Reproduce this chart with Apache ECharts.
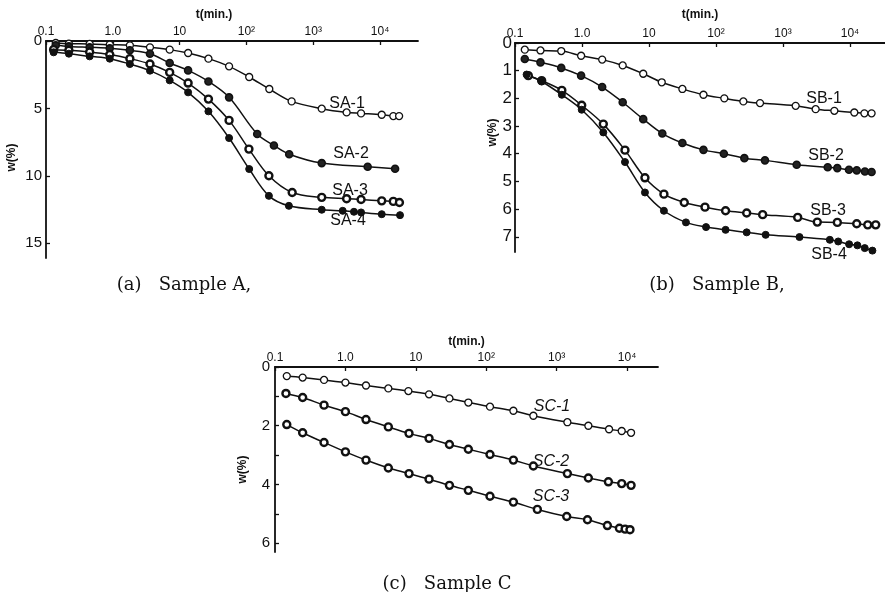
<!DOCTYPE html>
<html><head><meta charset="utf-8">
<script src="https://cdn.jsdelivr.net/npm/echarts@6/dist/echarts.min.js"></script>
<style>html,body{margin:0;padding:0;background:#fff}#c{width:885px;height:592px}</style>
</head><body><div id="c"></div>
<script>
// ---- tick labels ----
const xTickValues = [0.1, 1, 10, 100, 1000, 10000];
const xTickLabels = ['0.1', '1.0', '10', '10²', '10³', '10⁴'];
const yTicksA = [0, 5, 10, 15];
const yTicksB = [0, 1, 2, 3, 4, 5, 6, 7];
const yTicksC = [0, 1, 2, 3, 4, 5, 6];
const yLabelsC = [0, 2, 4, 6];

// ---- Sample A ----
const tSA1 = [0.14,0.22,0.45,0.9,1.8,3.6,7.1,13.4,27,55,110,220,475,1340,3160,5200,10600,15800,19300];
const wSA1 = [0.15,0.2,0.22,0.27,0.32,0.47,0.64,0.89,1.31,1.88,2.67,3.56,4.48,5.02,5.3,5.37,5.47,5.57,5.57];
const tSA2 = [0.14,0.22,0.45,0.9,1.8,3.6,7.1,13.4,27,55,145,258,437,1340,6530,16800];
const wSA2 = [0.32,0.4,0.47,0.54,0.69,0.94,1.63,2.18,3.0,4.18,6.9,7.75,8.4,9.06,9.33,9.48];
const tSA3 = [0.13,0.22,0.45,0.9,1.8,3.6,7.1,13.4,27,55,109,217,484,1340,3160,5200,10600,15800,19500];
const wSA3 = [0.64,0.69,0.82,1.01,1.31,1.71,2.33,3.12,4.31,5.89,8.02,10.0,11.24,11.6,11.7,11.76,11.86,11.9,11.98];
const tSA4 = [0.13,0.22,0.45,0.9,1.8,3.6,7.1,13.4,27,55,110,217,432,1340,2760,4070,5200,10600,19900];
const wSA4 = [0.84,0.94,1.14,1.31,1.71,2.2,2.92,3.81,5.22,7.2,9.5,11.49,12.23,12.52,12.6,12.67,12.72,12.85,12.92];

// ---- Sample B ----
const tSB1 = [0.14,0.24,0.49,0.97,2.0,4.05,8.2,15.5,31.5,65,133,256,454,1545,3070,5840,11600,16400,21000];
const wSB1 = [0.24,0.27,0.29,0.46,0.6,0.81,1.11,1.42,1.66,1.87,2.0,2.11,2.17,2.27,2.39,2.45,2.51,2.54,2.54];
const tSB2 = [0.14,0.24,0.49,0.97,2.0,4.05,8.2,15.8,31.5,65,131,265,538,1600,4650,6460,9660,12600,16700,21000];
const wSB2 = [0.58,0.7,0.9,1.18,1.59,2.14,2.75,3.27,3.61,3.86,4.0,4.16,4.24,4.4,4.49,4.52,4.58,4.6,4.64,4.66];
const tSB3 = [0.158,0.25,0.5,0.99,2.08,4.38,8.7,16.7,33.6,68.5,139,287,497,1657,3250,6470,12600,18400,24200];
const wSB3 = [1.18,1.36,1.71,2.25,2.93,3.87,4.87,5.46,5.76,5.93,6.06,6.14,6.2,6.3,6.47,6.48,6.53,6.57,6.57];
const tSB4 = [0.149,0.25,0.5,0.99,2.08,4.38,8.7,16.7,35.6,71,139,287,551,1763,5000,6670,9700,12900,16600,21600];
const wSB4 = [1.14,1.39,1.87,2.41,3.23,4.3,5.4,6.06,6.48,6.65,6.75,6.84,6.93,7.01,7.11,7.17,7.27,7.31,7.41,7.5];

// ---- Sample C ----
const tSC1 = [0.147,0.247,0.497,1.0,1.96,4.07,7.84,15.4,30,55.7,113,243,467,1420,2820,5550,8390,11400];
const wSC1 = [0.31,0.36,0.44,0.53,0.63,0.73,0.82,0.93,1.07,1.21,1.35,1.49,1.66,1.88,2.0,2.12,2.18,2.24];
const tSC2 = [0.143,0.247,0.497,1.0,1.96,4.07,8.0,15.4,30,55.7,113,243,467,1420,2820,5430,8390,11400];
const wSC2 = [0.9,1.04,1.3,1.52,1.79,2.04,2.26,2.43,2.64,2.8,2.98,3.17,3.37,3.63,3.78,3.91,3.97,4.03];
const tSC3 = [0.147,0.247,0.497,1.0,1.96,4.07,8.0,15.4,30,55.7,113,243,532,1390,2740,5250,7780,9380,11000];
const wSC3 = [1.96,2.24,2.57,2.89,3.17,3.44,3.63,3.82,4.03,4.2,4.4,4.6,4.85,5.09,5.2,5.4,5.49,5.52,5.54];

const INK = '#111';
const sans = '"Liberation Sans", "DejaVu Sans", Arial, sans-serif';
const serif = '"DejaVu Serif", "Liberation Serif", serif';

function xLabelFmt(v) {
  for (let i = 0; i < xTickValues.length; i++) {
    if (Math.abs(Math.log10(v) - Math.log10(xTickValues[i])) < 1e-6) return xTickLabels[i];
  }
  return '';
}

function xAxis(gi, max, gap, pad) {
  return {
    type: 'log', logBase: 10, gridIndex: gi, position: 'top', min: 0.1, max: max,
    name: 't(min.)', nameLocation: 'middle', nameGap: gap,
    nameTextStyle: { fontFamily: sans, fontSize: 12, fontWeight: 'bold', color: INK, padding: pad },
    axisLine: { show: true, onZero: false, lineStyle: { color: INK, width: 1.8 } },
    axisTick: { show: true, inside: true, length: 4, customValues: xTickValues, lineStyle: { color: INK, width: 1.3 } },
    axisLabel: { show: true, margin: 3, customValues: xTickValues, formatter: xLabelFmt,
      fontFamily: sans, fontSize: 12, color: INK },
    splitLine: { show: false }, minorTick: { show: false }
  };
}

function yAxis(gi, max, ticks, labels, fs, gap, pad, margin) {
  return {
    type: 'value', gridIndex: gi, inverse: true, min: 0, max: max, position: 'left',
    name: 'w(%)', nameLocation: 'middle', nameGap: gap,
    nameTextStyle: { fontFamily: sans, fontSize: 12, fontWeight: 'bold', color: INK, padding: pad },
    axisLine: { show: true, onZero: false, lineStyle: { color: INK, width: 1.8 } },
    axisTick: { show: true, inside: true, length: 4, customValues: ticks, lineStyle: { color: INK, width: 1.3 } },
    axisLabel: { show: true, margin: margin, customValues: labels, fontFamily: sans, fontSize: fs, color: INK },
    splitLine: { show: false }
  };
}

const OPEN  = { color: '#fff', borderColor: INK, borderWidth: 1.3 };
const RING  = { color: '#fff', borderColor: INK, borderWidth: 2.4 };
const DARK  = { color: '#222', borderColor: INK, borderWidth: 1.6 };
const SOLID = { color: INK, borderColor: INK, borderWidth: 1 };

function ser(name, t, w, gi, sty) {
  return {
    name: name, type: 'line', xAxisIndex: gi, yAxisIndex: gi,
    data: t.map((x, i) => [x, w[i]]),
    smooth: 0.35, symbol: 'circle', symbolSize: 7, showSymbol: true,
    lineStyle: { color: INK, width: 1.5 }, itemStyle: sty,
    animation: false, silent: true
  };
}

function lbl(text, x, y, italic) {
  return { type: 'text', x: x, y: y, silent: true,
    style: { text: text, fill: INK, font: (italic ? 'italic ' : '') + '16px ' + sans,
      align: 'center', verticalAlign: 'middle', textAlign: 'center', textVerticalAlign: 'middle' } };
}
function cap(text, x, y) {
  return { type: 'text', x: x, y: y, silent: true,
    style: { text: text, fill: INK, font: '18px ' + serif,
      align: 'center', verticalAlign: 'middle', textAlign: 'center', textVerticalAlign: 'middle' } };
}

const chart = echarts.init(document.getElementById('c'), null, { renderer: 'canvas' });
chart.setOption({
  backgroundColor: '#fff',
  animation: false,
  grid: [
    { left: 46, top: 41, width: 372, height: 217 },
    { left: 515, top: 43, width: 370, height: 209 },
    { left: 275, top: 367, width: 383, height: 185 }
  ],
  xAxis: [
    xAxis(0, 37000, 20, [0, 36, 0, 0]),
    xAxis(1, 33300, 22, [0, 0, 0, 0]),
    xAxis(2, 27500, 19, [0, 0, 0, 0])
  ],
  yAxis: [
    yAxis(0, 16.1, yTicksA, yTicksA, 15, 28, [0, 16, 0, 0], 4),
    yAxis(1, 7.55, yTicksB, yTicksB, 17, 16, [0, 0, 0, 30], 3),
    yAxis(2, 6.3, yTicksC, yLabelsC, 15, 26, [0, 20, 0, 0], 5)
  ],
  series: [
    ser('SA-1', tSA1, wSA1, 0, OPEN),
    ser('SA-2', tSA2, wSA2, 0, DARK),
    ser('SA-3', tSA3, wSA3, 0, RING),
    ser('SA-4', tSA4, wSA4, 0, SOLID),
    ser('SB-1', tSB1, wSB1, 1, OPEN),
    ser('SB-2', tSB2, wSB2, 1, DARK),
    ser('SB-3', tSB3, wSB3, 1, RING),
    ser('SB-4', tSB4, wSB4, 1, SOLID),
    ser('SC-1', tSC1, wSC1, 2, OPEN),
    ser('SC-2', tSC2, wSC2, 2, RING),
    ser('SC-3', tSC3, wSC3, 2, RING)
  ],
  graphic: { elements: [
    lbl('SA-1', 347, 104), lbl('SA-2', 351, 154), lbl('SA-3', 350, 191), lbl('SA-4', 348, 221),
    lbl('SB-1', 824, 99), lbl('SB-2', 826, 156), lbl('SB-3', 828, 211), lbl('SB-4', 829, 255),
    lbl('SC-1', 552, 407, true), lbl('SC-2', 551, 462, true), lbl('SC-3', 551, 497, true),
    cap('(a)   Sample A,', 184, 285), cap('(b)   Sample B,', 717, 285), cap('(c)   Sample C', 447, 584)
  ] }
});
</script>
</body></html>
